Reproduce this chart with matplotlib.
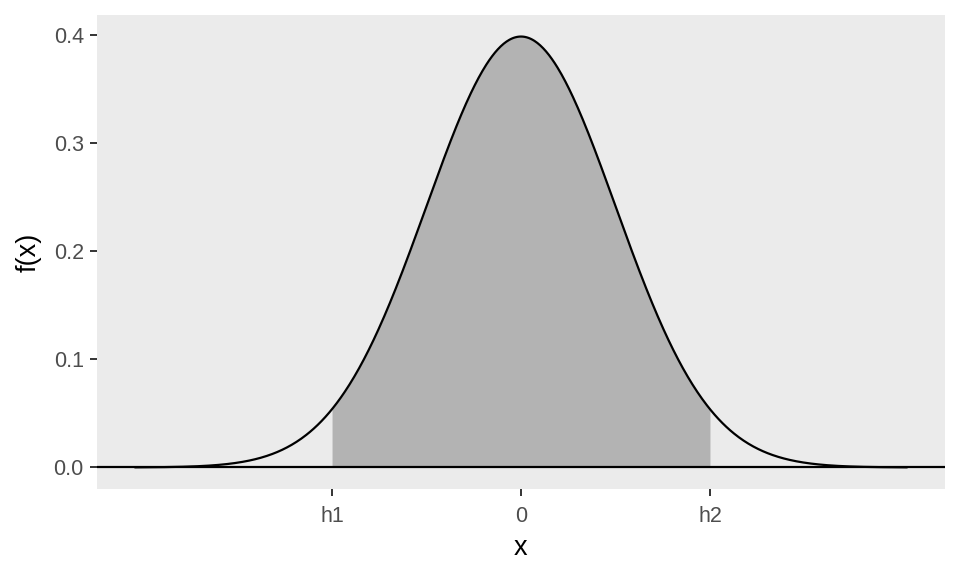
import numpy as np
import matplotlib
matplotlib.use("Agg")
import matplotlib.pyplot as plt

# data
x_lo, x_hi = -4.08, 4.08
h1, h2 = -2.0, 2.0
tick_pos = [h1, 0.0, h2]
tick_labels = ["h1", "0", "h2"]
y_ticks = [0.0, 0.1, 0.2, 0.3, 0.4]
y_tick_labels = ["0.0", "0.1", "0.2", "0.3", "0.4"]

def dnorm(x):
    return np.exp(-x**2 / 2) / np.sqrt(2 * np.pi)

xs = np.linspace(x_lo, x_hi, 801)
ys = dnorm(xs)
xf = np.linspace(h1, h2, 401)
yf = dnorm(xf)

plt.rcParams['font.family'] = ['Liberation Sans', 'DejaVu Sans']
fig = plt.figure(figsize=(9.6, 5.76), dpi=100)
ax = fig.add_axes([97/960, 1 - 489/576, (945-97)/960, (489-15)/576])
ax.set_facecolor("#EBEBEB")

ax.fill_between(xf, 0, yf, color="#B3B3B3", linewidth=0)
ax.plot(xs, ys, color="black", linewidth=1.6)
ax.axhline(0, color="black", linewidth=1.6)

span = x_hi - x_lo
ax.set_xlim(x_lo - 0.05 * span, x_hi + 0.05 * span)
ymax = ys.max()
ax.set_ylim(-0.05 * ymax, ymax * 1.05)

ax.set_xticks(tick_pos)
ax.set_xticklabels(tick_labels)
ax.set_yticks(y_ticks)
ax.set_yticklabels(y_tick_labels)
ax.tick_params(axis='both', colors="#333333", length=5, width=1.4, labelsize=15.5, labelcolor="#4D4D4D")
ax.tick_params(axis='x', pad=7.5)
ax.tick_params(axis='y', pad=4.5)
for s in ax.spines.values():
    s.set_visible(False)
ax.grid(False)

ax.set_xlabel("x", fontsize=19.5, color="black", labelpad=5.5)
ax.set_ylabel("f(x)", fontsize=19.5, color="black", labelpad=8.5)

fig.savefig("out.png", dpi=100, facecolor="white")
